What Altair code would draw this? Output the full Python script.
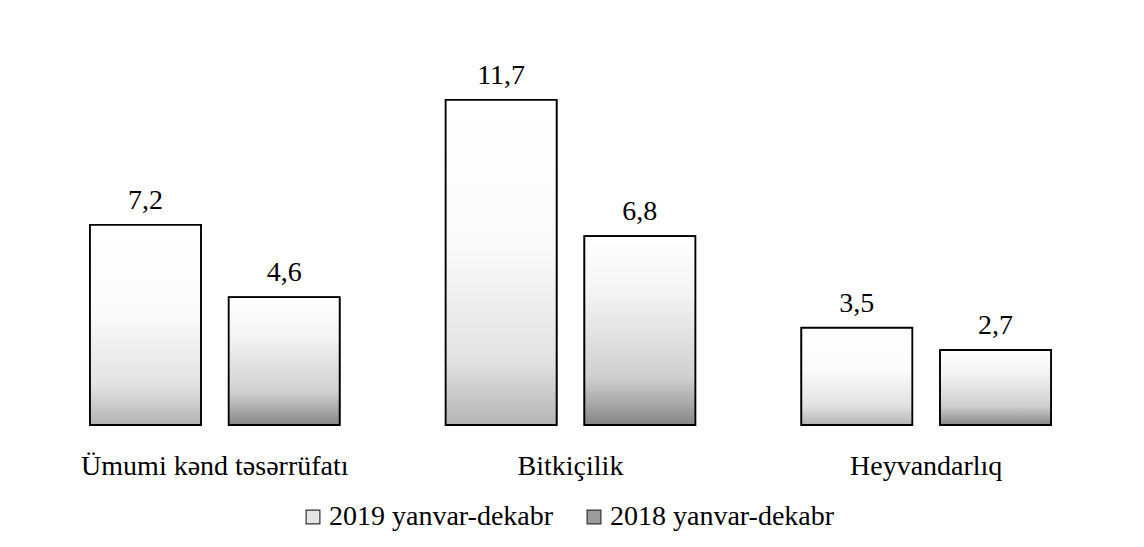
import altair as alt
import pandas as pd

categories = ["Ümumi kənd təsərrüfatı", "Bitkiçilik", "Heyvandarlıq"]
series = ["2019 yanvar-dekabr", "2018 yanvar-dekabr"]
values_2019 = [7.2, 11.7, 3.5]
values_2018 = [4.6, 6.8, 2.7]

rows = []
for c, a, b in zip(categories, values_2019, values_2018):
    rows.append({"cat": c, "series": series[0], "value": a, "label": f"{a}".replace(".", ",")})
    rows.append({"cat": c, "series": series[1], "value": b, "label": f"{b}".replace(".", ",")})
df = pd.DataFrame(rows)

FONT = "Liberation Serif"

x = alt.X("cat:N", sort=categories, title=None,
          scale=alt.Scale(paddingInner=0.298, paddingOuter=0.149),
          axis=alt.Axis(labelAngle=0, domain=False, ticks=False, labelPadding=27,
                        labelFont=FONT, labelFontSize=28, labelColor="black", labelLimit=0))
xo = alt.XOffset("series:N", sort=series, scale=alt.Scale(paddingInner=0.2, paddingOuter=0))
y = alt.Y("value:Q", scale=alt.Scale(domain=[0, 14], nice=False), axis=None)

base = alt.Chart(df).encode(x=x, xOffset=xo, y=y)

legend_bars = base.mark_bar(stroke="black", strokeWidth=1.5).encode(
    color=alt.Color("series:N", sort=series,
                    scale=alt.Scale(domain=series, range=["#e4e4e4", "#9c9c9c"]),
                    legend=alt.Legend(title=None, orient="none", direction="horizontal",
                                      legendX=262, legendY=467,
                                      symbolType="square", symbolSize=190,
                                      symbolStrokeColor="#333", symbolStrokeWidth=1.2,
                                      labelFont=FONT, labelFontSize=28, labelColor="black",
                                      labelLimit=0, columnPadding=26, labelOffset=2))
)

grad_2019 = alt.Gradient(gradient="linear", x1=0, x2=0, y1=0, y2=1, stops=[
    alt.GradientStop(offset=0, color="#ffffff"),
    alt.GradientStop(offset=0.45, color="#fafafa"),
    alt.GradientStop(offset=0.8, color="#e2e2e2"),
    alt.GradientStop(offset=1, color="#b4b4b4"),
])
grad_2018 = alt.Gradient(gradient="linear", x1=0, x2=0, y1=0, y2=1, stops=[
    alt.GradientStop(offset=0, color="#ffffff"),
    alt.GradientStop(offset=0.3, color="#f4f4f4"),
    alt.GradientStop(offset=0.75, color="#cfcfcf"),
    alt.GradientStop(offset=1, color="#878787"),
])

bars19 = base.mark_bar(fill=grad_2019, stroke="black", strokeWidth=1.8).transform_filter(
    alt.datum.series == series[0])
bars18 = base.mark_bar(fill=grad_2018, stroke="black", strokeWidth=1.8).transform_filter(
    alt.datum.series == series[1])

labels = base.mark_text(baseline="bottom", dy=-10, font=FONT, fontSize=28, color="black").encode(
    text="label:N")

chart = alt.layer(legend_bars, bars19, bars18, labels).properties(
    width=1067, height=389, background="white",
    padding={"left": 29, "top": 28, "right": 20, "bottom": 5},
).configure_view(stroke=None)

chart.save("out.html", embed_options={"renderer": "svg", "actions": False})
